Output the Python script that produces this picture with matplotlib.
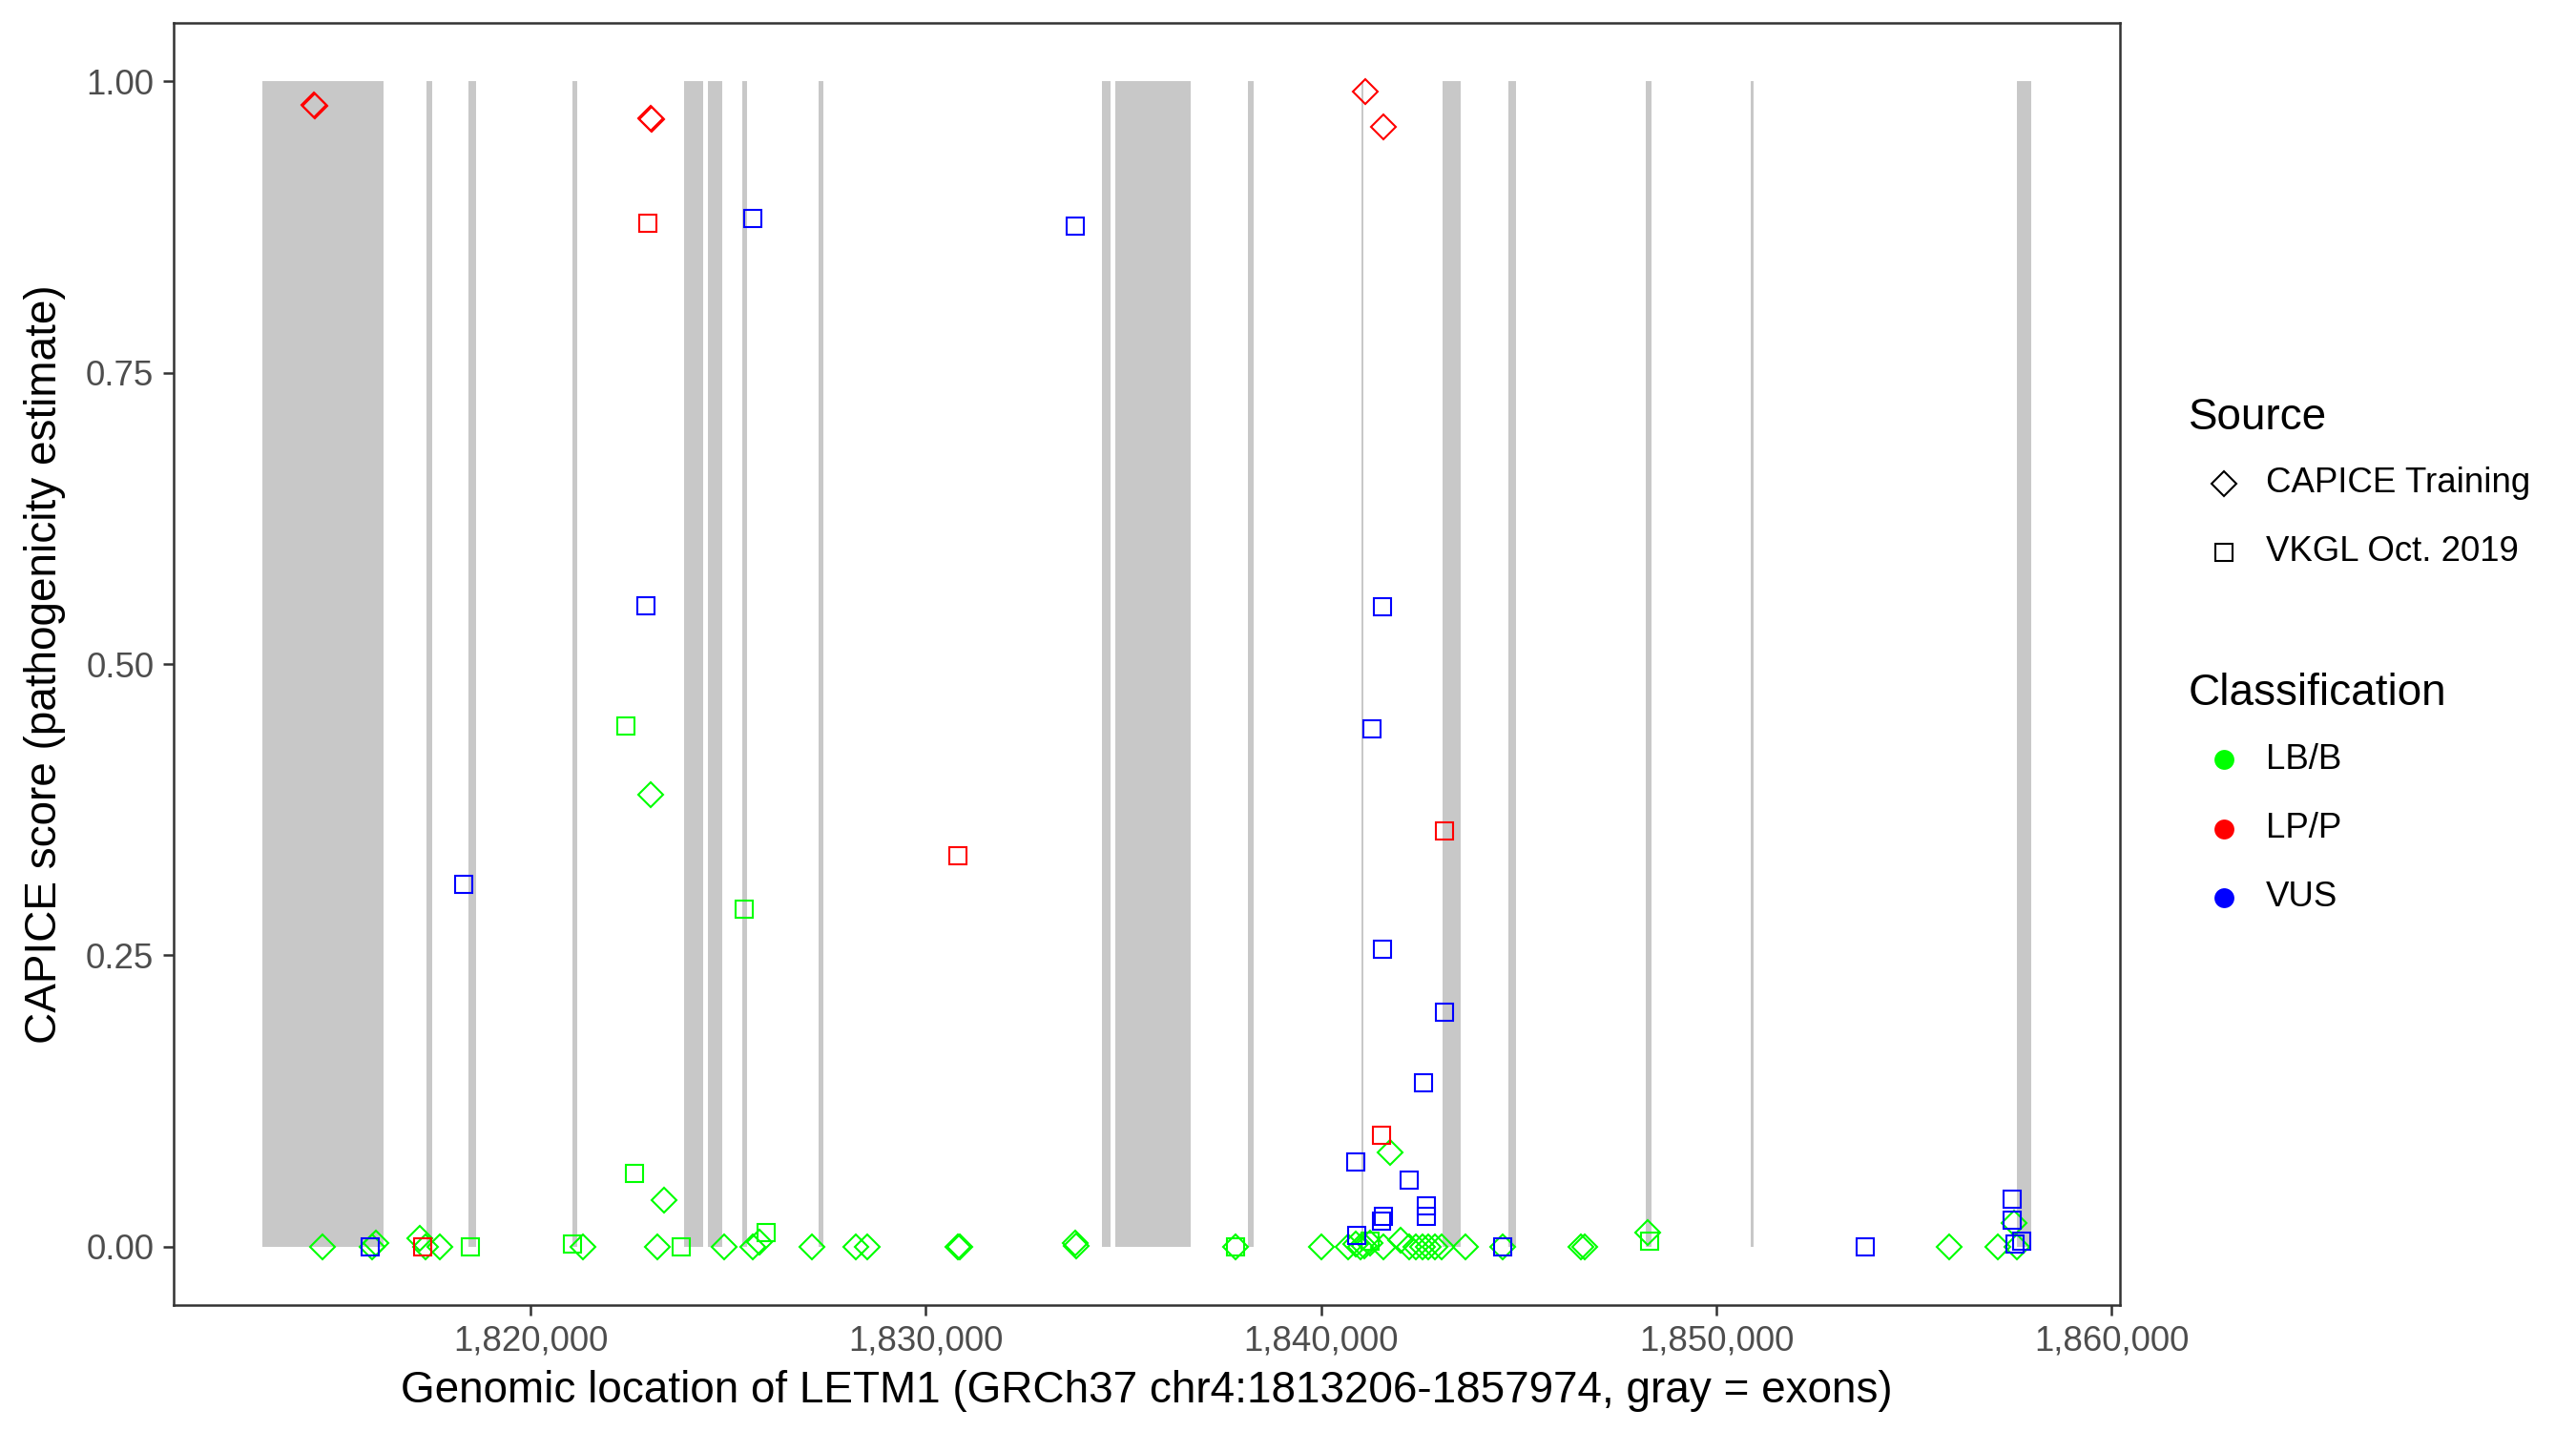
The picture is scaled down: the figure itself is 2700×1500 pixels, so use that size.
import matplotlib
matplotlib.use("Agg")
import matplotlib.pyplot as plt
from matplotlib.lines import Line2D
from matplotlib.ticker import FuncFormatter, FixedLocator

plt.rcParams['font.family'] = ['Liberation Sans', 'DejaVu Sans']

# ---- data ----
gene_start, gene_end = 1813206, 1857974

exon_start = [1813206, 1817365, 1818427, 1821059, 1823883, 1824486, 1825355, 1827286,
              1834456, 1834794, 1838150, 1841023, 1843075, 1844741, 1848217, 1850873, 1857600]
exon_end = [1816279, 1817510, 1818620, 1821180, 1824366, 1824848, 1825476, 1827407,
            1834673, 1836701, 1838295, 1841071, 1843534, 1844934, 1848362, 1850945, 1857974]

# CAPICE Training, LB/B
cap_lb_x = [1814724, 1816000, 1816080, 1817196, 1817330, 1817710, 1821318, 1823365, 1823040,
            1823207, 1824897, 1825631, 1825790, 1827117, 1828225, 1828527, 1830811, 1830860,
            1833778, 1833800, 1837830, 1839998, 1840695, 1840888, 1841000, 1841095, 1841250,
            1841588, 1841745, 1842020, 1842235, 1842399, 1842558, 1842720, 1842882, 1843044,
            1843655, 1844600, 1846566, 1846670, 1848258, 1855890, 1857120, 1857534, 1857606]
cap_lb_y = [0.0, 0.0, 0.003, 0.007, 0.0, 0.0, 0.0, 0.040, 0.388,
            0.0, 0.0, 0.0, 0.004, 0.0, 0.0, 0.0, 0.0, 0.0,
            0.003, 0.001, 0.0, 0.0, 0.0, 0.002, 0.0, 0.001, 0.003,
            0.0, 0.081, 0.006, 0.0, 0.0, 0.0, 0.0, 0.0, 0.0,
            0.0, 0.0, 0.0, 0.0, 0.012, 0.0, 0.0, 0.020, 0.0]

# VKGL Oct. 2019, LB/B
vk_lb_x = [1818485, 1821048, 1823798, 1825954, 1822418, 1825411, 1822625, 1837830, 1841250, 1848310]
vk_lb_y = [0.0, 0.002, 0.0, 0.012, 0.447, 0.290, 0.063, 0.0, 0.005, 0.005]

# CAPICE Training, LP/P
cap_lp_x = [1814517, 1814530, 1823040, 1823055, 1841119, 1841584]
cap_lp_y = [0.980, 0.979, 0.968, 0.967, 0.991, 0.961]

# VKGL Oct. 2019, LP/P
vk_lp_x = [1822958, 1830816, 1817278, 1841523, 1843122]
vk_lp_y = [0.878, 0.3355, 0.0, 0.096, 0.357]

# VKGL Oct. 2019, VUS
vk_vus_x = [1815931, 1818300, 1822917, 1825619, 1833768, 1841543, 1841295, 1841543, 1843122,
            1842585, 1840887, 1842222, 1842672, 1842672, 1841566, 1841530, 1840905, 1844600,
            1853768, 1857486, 1857486, 1857558, 1857727]
vk_vus_y = [0.0, 0.311, 0.550, 0.882, 0.876, 0.549, 0.444, 0.255, 0.201,
            0.141, 0.073, 0.057, 0.035, 0.026, 0.026, 0.022, 0.0096, 0.0,
            0.0, 0.041, 0.023, 0.002, 0.005]

x_ticks = [1820000, 1830000, 1840000, 1850000, 1860000]
y_ticks = [0.0, 0.25, 0.5, 0.75, 1.0]

GREEN, RED, BLUE = '#00FF00', '#FF0000', '#0000FF'
EXON = '#C8C8C8'

W, H = 2700, 1500
fig = plt.figure(figsize=(9, 5), dpi=300)
L, R, T, B = 182, 2222, 24, 1368
ax = fig.add_axes([L / W, (H - B) / H, (R - L) / W, (B - T) / H])

for s, e in zip(exon_start, exon_end):
    ax.axvspan(s, e, ymin=0.05 / 1.1, ymax=1.05 / 1.1, color=EXON, lw=0, zorder=1)

ms = 4.3
mew = 0.5
def pts(x, y, marker, color, size):
    ax.plot(x, y, linestyle='none', marker=marker, markersize=size, markerfacecolor='none',
            markeredgecolor=color, markeredgewidth=mew, zorder=3)

pts(cap_lb_x, cap_lb_y, 'D', GREEN, ms)
pts(vk_lb_x, vk_lb_y, 's', GREEN, ms)
pts(vk_vus_x, vk_vus_y, 's', BLUE, ms)
pts(cap_lp_x, cap_lp_y, 'D', RED, ms)
pts(vk_lp_x, vk_lp_y, 's', RED, ms)

rng = gene_end - gene_start
ax.set_xlim(gene_start - 0.05 * rng, gene_end + 0.05 * rng)
ax.set_ylim(-0.05, 1.05)
ax.xaxis.set_major_locator(FixedLocator(x_ticks))
ax.yaxis.set_major_locator(FixedLocator(y_ticks))
ax.xaxis.set_major_formatter(FuncFormatter(lambda v, p: f"{int(v):,}"))
ax.yaxis.set_major_formatter(FuncFormatter(lambda v, p: f"{v:.2f}"))

for sp in ax.spines.values():
    sp.set_color('#333333')
    sp.set_linewidth(0.6)
ax.tick_params(axis='both', length=2.75, width=0.6, color='#333333', labelcolor='#4D4D4D',
               labelsize=8.8, pad=2.2)

ax.set_xlabel("Genomic location of LETM1 (GRCh37 chr4:1813206-1857974, gray = exons)",
              fontsize=11, color='black', labelpad=3)
ax.set_ylabel("CAPICE score (pathogenicity estimate)", fontsize=11, color='black', labelpad=5)

# ---- legends (manual) ----
def fx(px):
    return px / W
def fy(py):
    return (H - py) / H

fig.text(fx(2294), fy(438), "Source", fontsize=11, va='center', ha='left')
fig.text(fx(2294), fy(727), "Classification", fontsize=11, va='center', ha='left')

src_labels = ["CAPICE Training", "VKGL Oct. 2019"]
src_markers = ['D', 's']
src_rows = [507, 579]
for lab, mk, ry in zip(src_labels, src_markers, src_rows):
    fig.add_artist(Line2D([fx(2331)], [fy(ry)], marker=mk, markersize=ms, markerfacecolor='none',
                          markeredgecolor='black', markeredgewidth=mew, linestyle='none',
                          transform=fig.transFigure))
    fig.text(fx(2375), fy(ry), lab, fontsize=8.8, va='center', ha='left')

cls_labels = ["LB/B", "LP/P", "VUS"]
cls_colors = [GREEN, RED, BLUE]
cls_rows = [796, 869, 941]
for lab, c, ry in zip(cls_labels, cls_colors, cls_rows):
    fig.add_artist(Line2D([fx(2331)], [fy(ry)], marker='o', markersize=5, markerfacecolor=c,
                          markeredgecolor=c, markeredgewidth=0, linestyle='none',
                          transform=fig.transFigure))
    fig.text(fx(2375), fy(ry), lab, fontsize=8.8, va='center', ha='left')

fig.savefig("out.png", dpi=300, facecolor='white')
